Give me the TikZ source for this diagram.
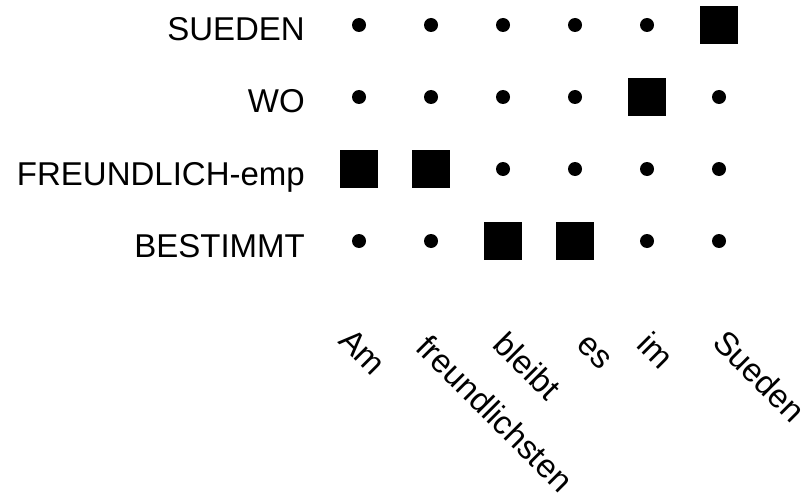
\documentclass[tikz,border=0pt]{standalone}
\usepackage{fontspec}
\setmainfont{Liberation Sans}
\usetikzlibrary{positioning}

\begin{document}
\begin{tikzpicture}[
  x=1pt, y=-1pt,
  rowlabel/.style={anchor=base east, font=\fontsize{33}{36}\selectfont, inner sep=0pt},
  collabel/.style={anchor=base west, rotate=-45, font=\fontsize{33}{36}\selectfont, inner sep=0pt},
  dotcell/.style={circle, fill=black, minimum size=14pt, inner sep=0pt},
  hitcell/.style={rectangle, fill=black, minimum size=38pt, inner sep=0pt},
]
\useasboundingbox (0,0) rectangle (810,500);
% ====== ROW LABELS (glosses) ======
\node[rowlabel] (r1) at (305, 25+16) {SUEDEN};
\node[rowlabel] (r2) at (305, 97+16) {WO};
\node[rowlabel] (r3) at (305, 169+16) {FREUNDLICH-emp};
\node[rowlabel] (r4) at (305, 241+16) {BESTIMMT};
% ====== ALIGNMENT GRID ======
\foreach \r/\hits in {1/{6}, 2/{5}, 3/{1,2}, 4/{3,4}} {
  \foreach \c in {1,...,6} {
    \def\cellstyle{dotcell}
    \foreach \h in \hits {
      \ifnum\h=\c \global\def\cellstyle{hitcell}\fi
    }
    \node[\cellstyle] (cell-\r-\c) at ({359+72*(\c-1)}, {25+72*(\r-1)}) {};
    \global\def\cellstyle{dotcell}
  }
}
% ====== COLUMN LABELS (words) ======
\node[collabel] (w1) at (337, 342) {Am};
\node[collabel] (w2) at (414, 349) {freundlichsten};
\node[collabel] (w3) at (491, 346) {bleibt};
\node[collabel] (w4) at (575, 346) {es};
\node[collabel] (w5) at (635, 346) {im};
\node[collabel] (w6) at (711, 344) {Sueden};
\end{tikzpicture}
\end{document}
